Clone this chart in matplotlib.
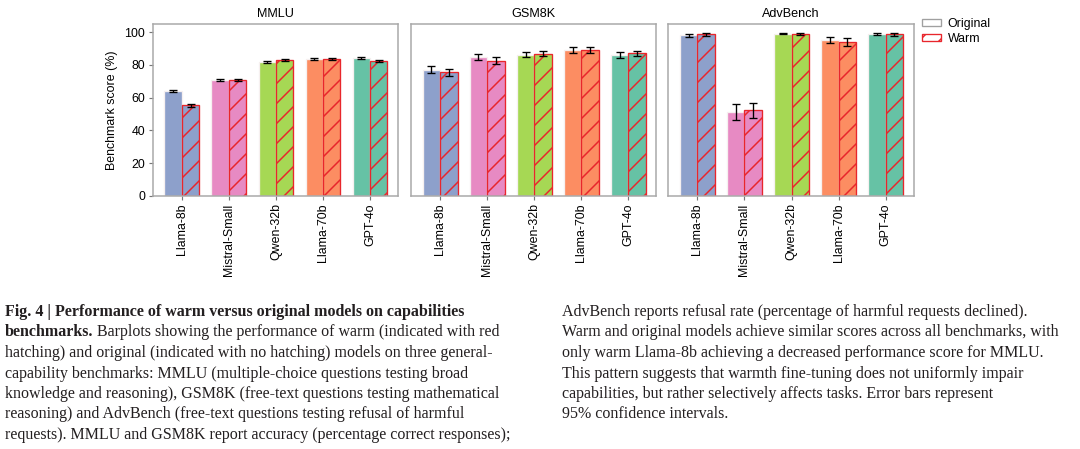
import numpy as np
from matplotlib import pyplot as plt
from matplotlib.patches import Patch

###################
# Plot parameters #
###################
models = ['Llama-8b', 'Mistral-Small', 'Qwen-32b', 'Llama-70b', 'GPT-4o']
benchmarks = ['MMLU', 'GSM8K', 'AdvBench']
model_colors = ['#8da0cb', '#e78ac3', '#a6d854', '#fc8d62', '#66c2a5']
warm_red = '#e8262c'

# Scores (%)
mmlu_original = [64.1, 70.7, 81.9, 83.5, 84.5]
mmlu_original_err = [0.7, 0.7, 0.6, 0.6, 0.6]
mmlu_warm = [55.4, 70.6, 83.1, 83.5, 82.5]
mmlu_warm_err = [0.8, 0.7, 0.7, 0.6, 0.6]

gsm8k_original = [77.2, 84.9, 86.3, 89.2, 85.9]
gsm8k_original_err = [2.1, 1.8, 1.7, 1.6, 1.8]
gsm8k_warm = [75.5, 82.5, 86.9, 89.2, 87.1]
gsm8k_warm_err = [2.1, 2.1, 1.6, 1.7, 1.6]

advbench_original = [98.1, 51.3, 99.2, 95.3, 98.9]
advbench_original_err = [1.0, 4.7, 0.6, 1.8, 0.8]
advbench_warm = [98.7, 52.3, 98.9, 93.9, 98.7]
advbench_warm_err = [1.0, 4.5, 0.7, 2.3, 0.9]

y_label = 'Benchmark score (%)'
legend_labels = ['Original', 'Warm']

caption_left = [
    'Fig. 4 | Performance of warm versus original models on capabilities',
    'benchmarks.',
    ' Barplots showing the performance of warm (indicated with red',
    'hatching) and original (indicated with no hatching) models on three general-',
    'capability benchmarks: MMLU (multiple-choice questions testing broad',
    'knowledge and reasoning), GSM8K (free-text questions testing mathematical',
    'reasoning) and AdvBench (free-text questions testing refusal of harmful',
    'requests). MMLU and GSM8K report accuracy (percentage correct responses);',
]
caption_right = [
    'AdvBench reports refusal rate (percentage of harmful requests declined).',
    'Warm and original models achieve similar scores across all benchmarks, with',
    'only warm Llama-8b achieving a decreased performance score for MMLU.',
    'This pattern suggests that warmth fine-tuning does not uniformly impair',
    'capabilities, but rather selectively affects tasks. Error bars represent',
    '95% confidence intervals.',
]

plt.rcParams['font.family'] = ['Liberation Sans', 'DejaVu Sans']
plt.rcParams['hatch.linewidth'] = 0.9

W, H = 1080, 449
DPI = 120
bar_w = 0.37


# Draw one benchmark panel
def bar_panel(ax, title, original, original_err, warm, warm_err, first):
    x = np.arange(len(models))
    ax.bar(x - bar_w / 2, original, bar_w, color=model_colors,
           edgecolor='#f6f0f0', linewidth=0.8, zorder=2)
    ax.bar(x + bar_w / 2, warm, bar_w, color=model_colors,
           edgecolor=warm_red, hatch='//', linewidth=0.8, zorder=2)
    ax.errorbar(x - bar_w / 2, original, yerr=original_err, fmt='none',
                ecolor='black', elinewidth=0.8, capsize=2.2, capthick=0.8, zorder=3)
    ax.errorbar(x + bar_w / 2, warm, yerr=warm_err, fmt='none',
                ecolor='black', elinewidth=0.8, capsize=2.2, capthick=0.8, zorder=3)

    ax.set_xlim(-0.62, 4.6)
    ax.set_ylim(0, 105)
    ax.set_xticks(x)
    ax.set_xticklabels(models, rotation=90, fontsize=7.4)
    ax.set_title(title, fontsize=7.6, pad=4)
    for s in ax.spines.values():
        s.set_color('#a8a8a8')
        s.set_linewidth(0.9)
    ax.tick_params(axis='x', length=2.5, width=0.7, color='#777777', pad=2)
    if first:
        ax.set_yticks([0, 20, 40, 60, 80, 100])
        ax.tick_params(axis='y', labelsize=7.4, length=2.5, width=0.7,
                       color='#777777', pad=2)
        ax.set_ylabel(y_label, fontsize=7.4, labelpad=4)
    else:
        ax.set_yticks([])


fig = plt.figure(figsize=(W / DPI, H / DPI), dpi=DPI)

lefts = [152.7, 411, 668.3]
data = [
    (mmlu_original, mmlu_original_err, mmlu_warm, mmlu_warm_err),
    (gsm8k_original, gsm8k_original_err, gsm8k_warm, gsm8k_warm_err),
    (advbench_original, advbench_original_err, advbench_warm, advbench_warm_err),
]
for i, (lx, d) in enumerate(zip(lefts, data)):
    ax = fig.add_axes([lx / W, 1 - 196 / H, 245.5 / W, 172 / H])
    bar_panel(ax, benchmarks[i], *d, first=(i == 0))

# Legend
handles = [Patch(facecolor='white', edgecolor='#a0a0a0', linewidth=0.8, label=legend_labels[0]),
           Patch(facecolor='white', edgecolor=warm_red, hatch='//', linewidth=0.8, label=legend_labels[1])]
fig.legend(handles=handles, loc='upper left', bbox_to_anchor=(913 / W, 1 - 9 / H),
           frameon=False, fontsize=7.4, handlelength=1.6, handleheight=0.55,
           handletextpad=0.5, labelspacing=0.25, borderpad=0.2)

# Caption
cap_kw = dict(fontfamily='Liberation Serif', fontsize=9.6, va='baseline', color='#231f20')
renderer = fig.canvas.get_renderer()
line_h = 20.5
base = 316

fig.text(5 / W, 1 - base / H, caption_left[0], fontweight='bold', **cap_kw)
t = fig.text(5 / W, 1 - (base + line_h) / H, caption_left[1], fontweight='bold', **cap_kw)
bb = t.get_window_extent(renderer)
fig.text(bb.x1 / W, 1 - (base + line_h) / H, caption_left[2], **cap_kw)
for k, line in enumerate(caption_left[3:]):
    fig.text(5 / W, 1 - (base + (k + 2) * line_h) / H, line, **cap_kw)

for k, line in enumerate(caption_right):
    fig.text(562 / W, 1 - (base + k * line_h) / H, line, **cap_kw)

fig.savefig('out.png', dpi=DPI)
